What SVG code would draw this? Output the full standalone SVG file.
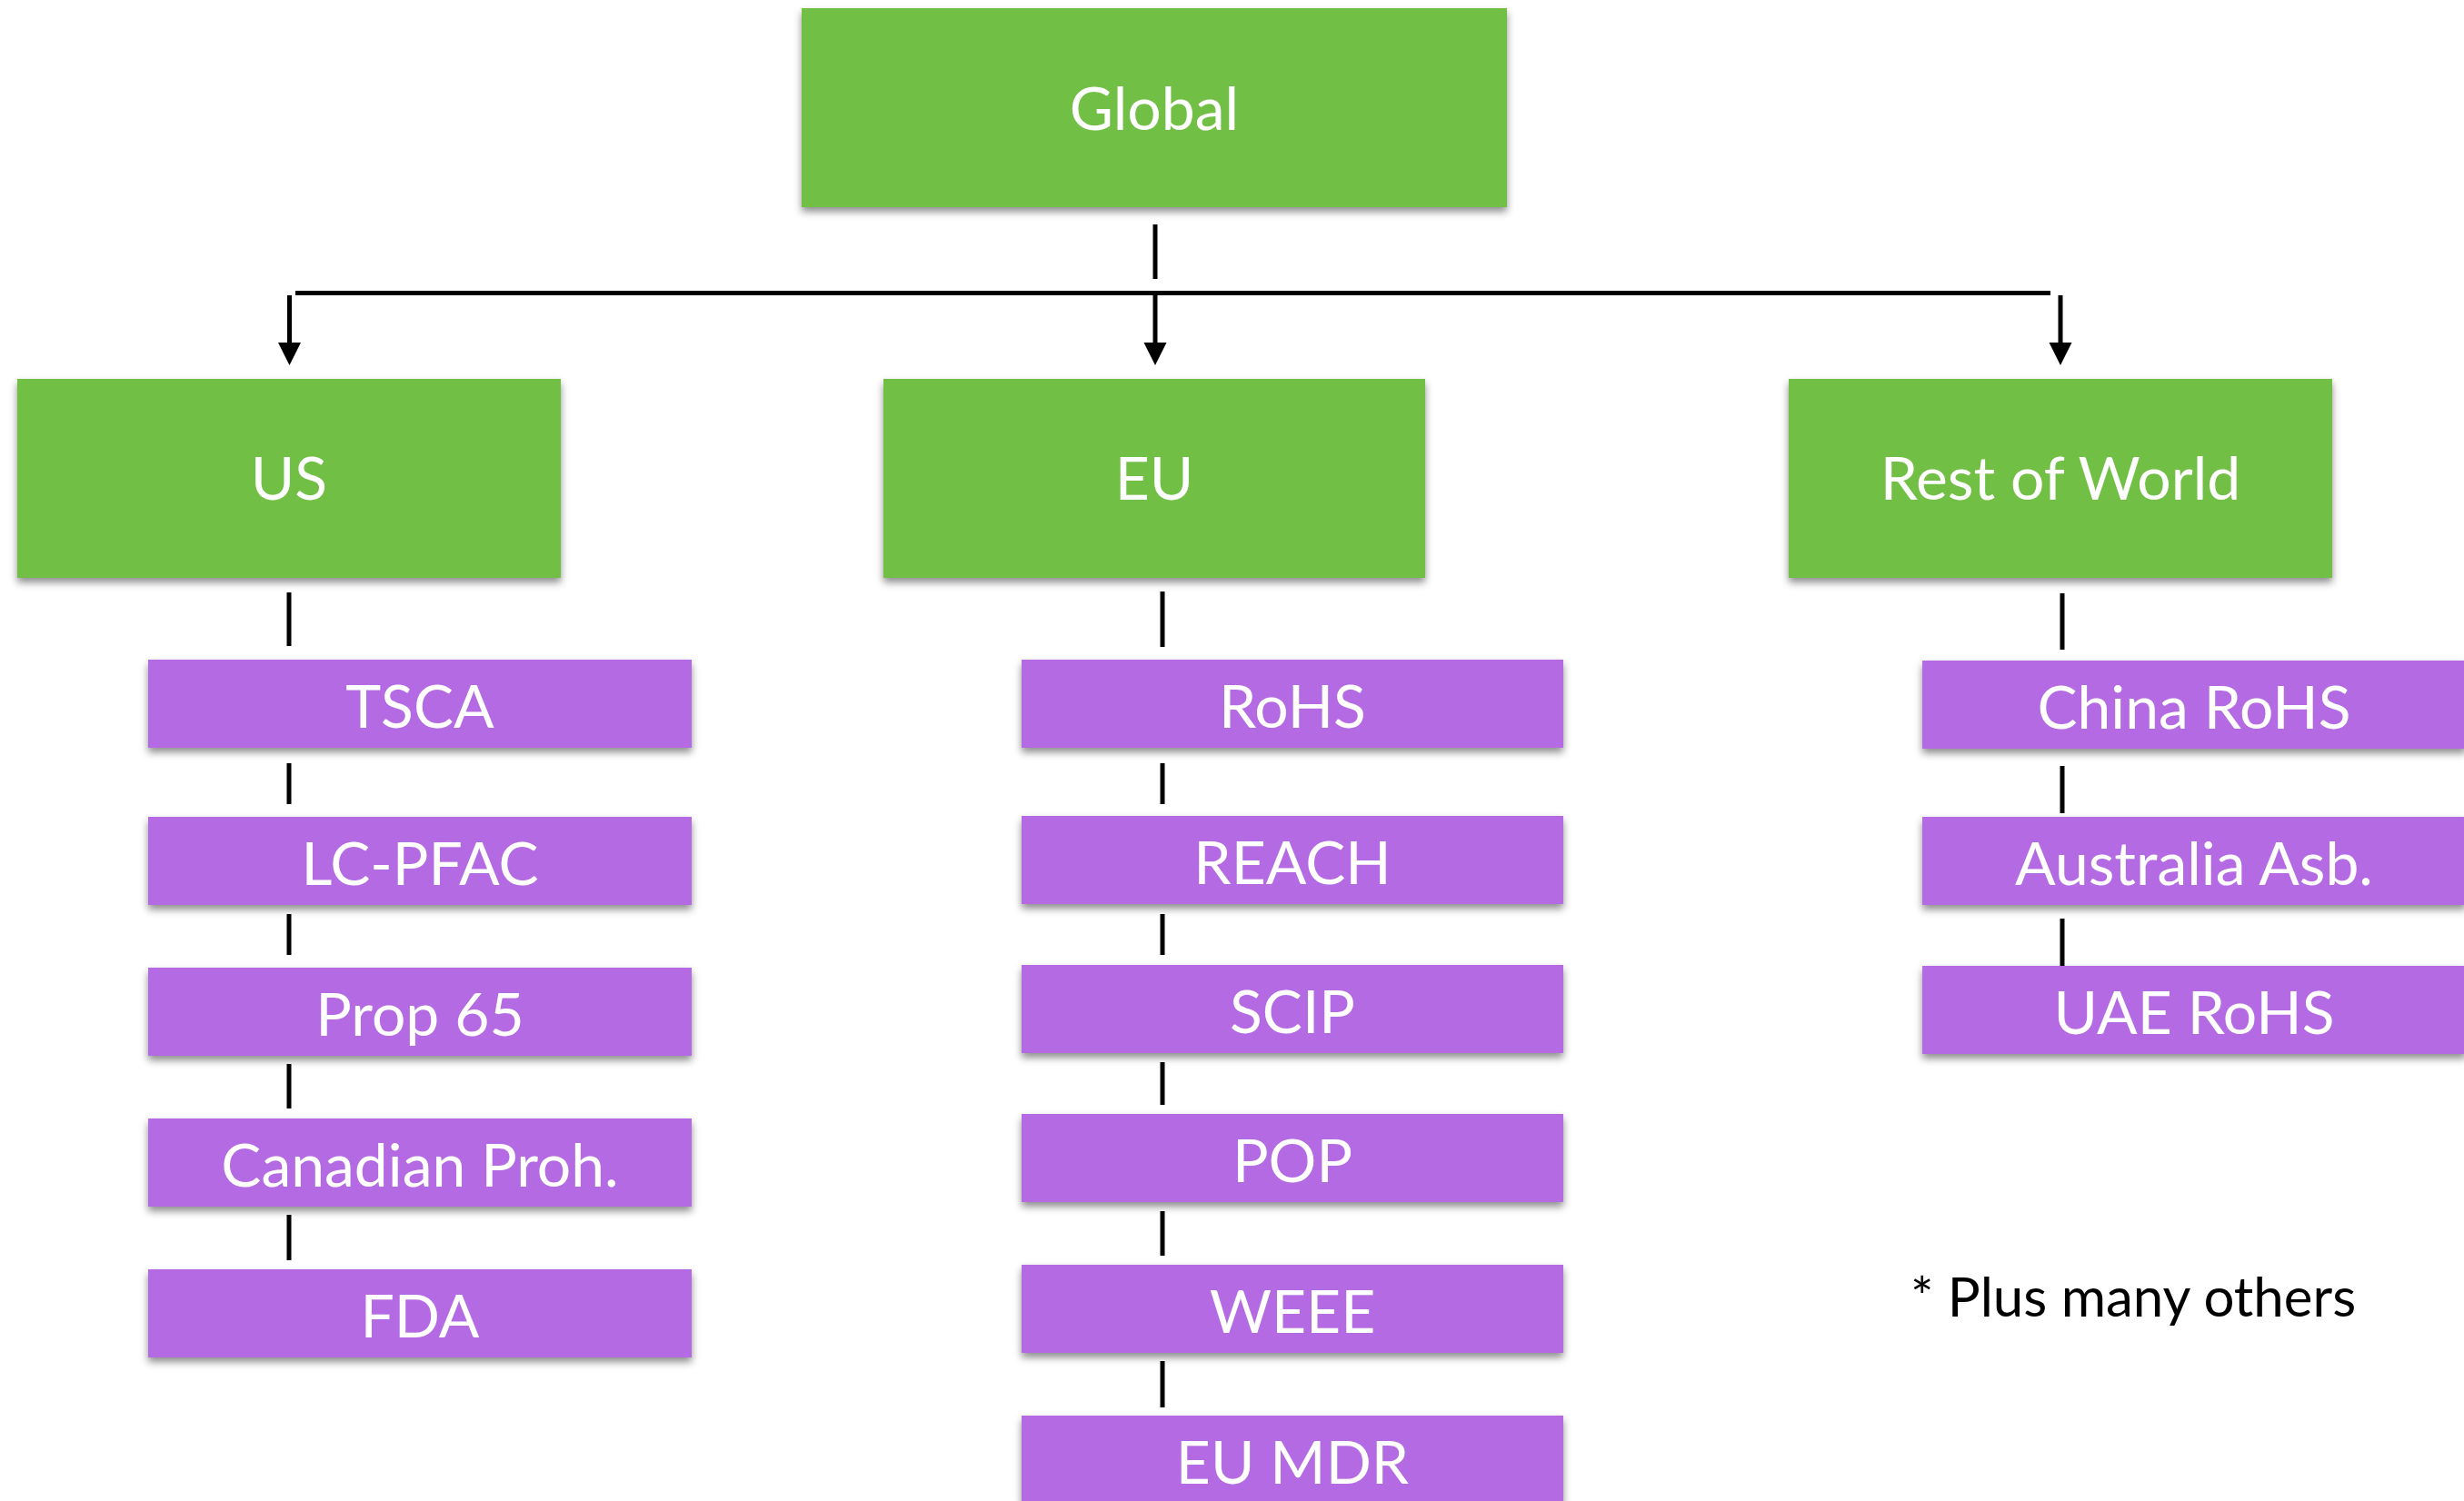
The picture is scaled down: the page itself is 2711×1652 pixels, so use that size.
<svg xmlns="http://www.w3.org/2000/svg" width="2711" height="1652" viewBox="0 0 2711 1652">
<defs>
<filter id="sh" x="-5%" y="-10%" width="110%" height="130%">
<feDropShadow dx="0" dy="5" stdDeviation="4" flood-color="#000" flood-opacity="0.45"/>
</filter>
<style>
.g{fill:#72BF44;filter:url(#sh)}
.p{fill:#B36BE2;filter:url(#sh)}
.t{font-family:Lato,"Open Sans",sans-serif;fill:#fff;text-anchor:middle;font-size:66px}
.c{stroke:#000;stroke-width:5;fill:none}
.a{fill:#000}
.n{font-family:Lato,"Open Sans",sans-serif;fill:#000;font-size:60px}
</style>
</defs>
<rect width="2711" height="1652" fill="#fff"/>
<g id="connectors">
<line class="c" x1="1271" y1="247" x2="1271" y2="307"/>
<line class="c" x1="325" y1="322.5" x2="2256" y2="322.5"/>
<line class="c" x1="318.5" y1="325" x2="318.5" y2="380"/>
<polygon class="a" points="306,377 331,377 318.5,402"/>
<line class="c" x1="1271" y1="325" x2="1271" y2="380"/>
<polygon class="a" points="1258.5,377 1283.5,377 1271,402"/>
<line class="c" x1="2267" y1="325" x2="2267" y2="380"/>
<polygon class="a" points="2254.5,377 2279.5,377 2267,402"/>
<line class="c" x1="318" y1="652" x2="318" y2="711"/>
<line class="c" x1="318" y1="840" x2="318" y2="885"/>
<line class="c" x1="318" y1="1006" x2="318" y2="1051"/>
<line class="c" x1="318" y1="1171" x2="318" y2="1220"/>
<line class="c" x1="318" y1="1337" x2="318" y2="1387"/>
<line class="c" x1="1279" y1="651" x2="1279" y2="712"/>
<line class="c" x1="1279" y1="840" x2="1279" y2="885"/>
<line class="c" x1="1279" y1="1006" x2="1279" y2="1051"/>
<line class="c" x1="1279" y1="1169" x2="1279" y2="1216"/>
<line class="c" x1="1279" y1="1333" x2="1279" y2="1382"/>
<line class="c" x1="1279" y1="1498" x2="1279" y2="1549"/>
<line class="c" x1="2269" y1="653" x2="2269" y2="715"/>
<line class="c" x1="2269" y1="843" x2="2269" y2="895"/>
<line class="c" x1="2269" y1="1011" x2="2269" y2="1063"/>
</g>
<g id="global"><rect class="g" x="882" y="9" width="776" height="219"/><text class="t" x="1270" y="143">Global</text></g>
<g id="us"><rect class="g" x="19" y="417" width="598" height="219"/><text class="t" x="318" y="550">US</text></g>
<g id="eu"><rect class="g" x="972" y="417" width="596" height="219"/><text class="t" x="1270" y="550">EU</text></g>
<g id="row"><rect class="g" x="1968" y="417" width="598" height="219"/><text class="t" x="2267" y="550">Rest of World</text></g>
<g id="tsca"><rect class="p" x="163" y="726" width="598" height="97"/><text class="t" x="462" y="801">TSCA</text></g>
<g id="lcpfac"><rect class="p" x="163" y="899" width="598" height="97"/><text class="t" x="462" y="974">LC-PFAC</text></g>
<g id="prop65"><rect class="p" x="163" y="1065" width="598" height="97"/><text class="t" x="462" y="1140">Prop 65</text></g>
<g id="canadian"><rect class="p" x="163" y="1231" width="598" height="97"/><text class="t" x="462" y="1306">Canadian Proh.</text></g>
<g id="fda"><rect class="p" x="163" y="1397" width="598" height="97"/><text class="t" x="462" y="1472">FDA</text></g>
<g id="rohs"><rect class="p" x="1124" y="726" width="596" height="97"/><text class="t" x="1422" y="801">RoHS</text></g>
<g id="reach"><rect class="p" x="1124" y="898" width="596" height="97"/><text class="t" x="1422" y="973">REACH</text></g>
<g id="scip"><rect class="p" x="1124" y="1062" width="596" height="97"/><text class="t" x="1422" y="1137">SCIP</text></g>
<g id="pop"><rect class="p" x="1124" y="1226" width="596" height="97"/><text class="t" x="1422" y="1301">POP</text></g>
<g id="weee"><rect class="p" x="1124" y="1392" width="596" height="97"/><text class="t" x="1422" y="1467">WEEE</text></g>
<g id="eumdr"><rect class="p" x="1124" y="1558" width="596" height="97"/><text class="t" x="1422" y="1633">EU MDR</text></g>
<g id="chinarohs"><rect class="p" x="2115" y="727" width="598" height="97"/><text class="t" x="2414" y="802">China RoHS</text></g>
<g id="australia"><rect class="p" x="2115" y="899" width="598" height="97"/><text class="t" x="2414" y="974">Australia Asb.</text></g>
<g id="uaerohs"><rect class="p" x="2115" y="1063" width="598" height="97"/><text class="t" x="2414" y="1138">UAE RoHS</text></g>
<g id="note"><text class="n" x="2102" y="1449">* Plus many others</text></g>
</svg>
